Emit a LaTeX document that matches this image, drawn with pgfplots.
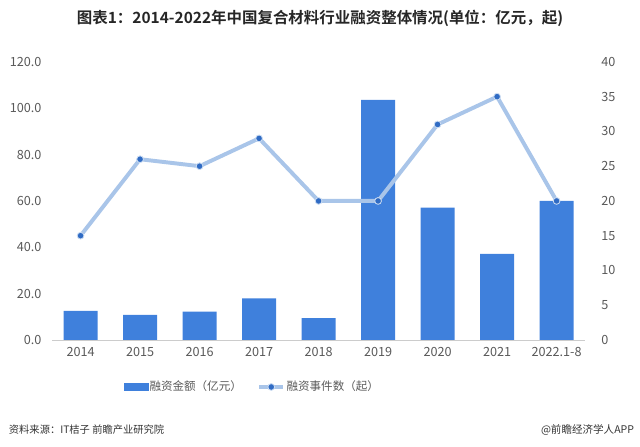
\documentclass[border=0pt]{standalone}
\usepackage{pgfplots}
\pgfplotsset{compat=1.18}
\usepackage{fontspec}
\setmainfont{Noto Sans CJK SC}[BoldFont={Noto Sans CJK SC Bold}]
\definecolor{barblue}{HTML}{3F80DC}
\definecolor{lineblue}{HTML}{A9C5E9}
\definecolor{markblue}{HTML}{2F6BC4}
\definecolor{ticktext}{HTML}{595959}
\begin{document}
\begin{tikzpicture}
\begin{scope}[x=0.025cm,y=0.025cm]
\path[use as bounding box] (0,0) rectangle (640,447);
\node[font=\bfseries\fontsize{11}{13}\selectfont, text=black!85] at (320,429) {图表1：2014-2022年中国复合材料行业融资整体情况(单位：亿元，起)};
\node[anchor=west, font=\fontsize{7.3}{9}\selectfont, text=black!80] at (4,17) {资料来源：IT桔子 前瞻产业研究院};
\node[anchor=east, font=\fontsize{7.5}{9}\selectfont, text=black!80] at (639,17) {@前瞻经济学人APP};
\end{scope}
\begin{axis}[
  at={(1.3cm,2.675cm)}, anchor=south west,
  scale only axis, width=13.325cm, height=6.95cm,
  xmin=-0.48, xmax=8.48, ymin=0, ymax=120,
  axis x line*=bottom, axis y line*=left,
  x axis line style={draw=black!20, line width=0.6pt},
  y axis line style={draw=none},
  xtick=data,
  xticklabels={2014,2015,2016,2017,2018,2019,2020,2021,2022.1-8},
  ytick={0,20,...,120},
  major tick length=0pt,
  ticklabel style={font=\fontsize{9}{11}\selectfont, text=ticktext},
  /pgf/number format/assume math mode=true,
  yticklabel={\pgfmathprintnumber[fixed,fixed zerofill,precision=1]{\tick}},
  yticklabel style={xshift=-4pt},
  xticklabel style={yshift=-2pt},
]
\addplot[ybar, bar width=0.85cm, fill=barblue, draw=none] coordinates {
(0,12.6) (1,10.8) (2,12.2) (3,18.0) (4,9.4) (5,103.6) (6,57.1) (7,37.1) (8,60.0)};
\end{axis}
\begin{axis}[
  at={(1.3cm,2.675cm)}, anchor=south west,
  scale only axis, width=13.325cm, height=6.95cm,
  xmin=-0.48, xmax=8.48, ymin=0, ymax=40,
  axis x line=none, axis y line*=right,
  y axis line style={draw=none},
  ytick={0,5,...,40},
  major tick length=0pt,
  ticklabel style={font=\fontsize{9}{11}\selectfont, text=ticktext},
  /pgf/number format/assume math mode=true,
  yticklabel style={xshift=8pt},
  legend style={at={(0.375,-0.169)}, anchor=center, draw=none, fill=none,
    legend columns=2, font=\fontsize{8.2}{10}\selectfont, text=ticktext,
    nodes={inner xsep=1pt},
    /tikz/every even column/.append style={column sep=10pt}},
]
\addlegendimage{legend image code/.code={\fill[barblue] (0cm,-0.09cm) rectangle (0.6cm,0.09cm);}}
\addlegendentry{融资金额（亿元）}
\addplot[lineblue, line width=2.8pt, mark=*, mark size=2.4pt,
  mark options={fill=markblue, draw=lineblue!60, line width=0.6pt}] coordinates {
(0,15) (1,26) (2,25) (3,29) (4,20) (5,20) (6,31) (7,35) (8,20)};
\addlegendentry{融资事件数（起）}
\end{axis}
\end{tikzpicture}
\end{document}
